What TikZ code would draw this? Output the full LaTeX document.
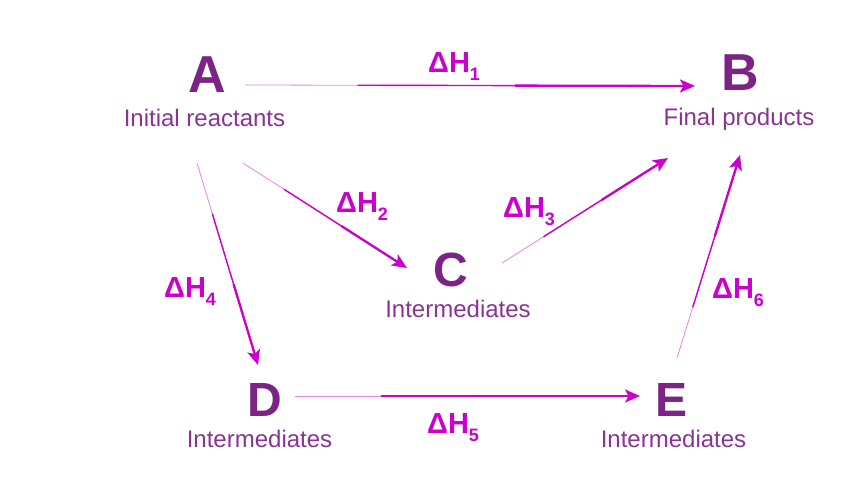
\documentclass[tikz,border=0pt]{standalone}
\usepackage{fontspec}
\setmainfont{Liberation Sans}
\usepackage{tikz}
\usetikzlibrary{arrows.meta,calc}
\definecolor{PurpleLetter}{RGB}{123,36,134}
\definecolor{PurpleText}{RGB}{137,52,148}
\definecolor{MagentaFlow}{RGB}{204,0,204}
\definecolor{PinkTail}{RGB}{232,130,232}
\newcommand{\pathway}[2]{%
  \draw[PinkTail,line width=0.8pt,shorten >=8pt] (#1) -- (#2);
  \draw[MagentaFlow,line width=1.4pt,shorten >=8pt] ($(#1)!0.25!(#2)$) -- (#2);
  \draw[MagentaFlow,line width=2.3pt,-{Stealth[length=15pt,width=13pt,inset=3.5pt]}] ($(#1)!0.6!(#2)$) -- (#2);}
\newcommand{\dH}[1]{ΔH\raisebox{-8pt}{\fontsize{18}{18}\selectfont #1}}

\begin{document}
\begin{tikzpicture}[x=1pt,y=-1pt,
    big/.style={PurpleLetter,inner sep=0pt,font=\bfseries\fontsize{52}{52}\selectfont},
    mid/.style={big,font=\bfseries\fontsize{48}{48}\selectfont},
    caption/.style={PurpleText,inner sep=0pt,anchor=base,font=\fontsize{24}{24}\selectfont},
    dh/.style={MagentaFlow,inner sep=0pt,anchor=base west,font=\bfseries\fontsize{29}{29}\selectfont}]
  \useasboundingbox (0,0) rectangle (850,500);
  \node[big] (A) at (207.5,75) {A};
  \node[caption] (Acap) at (204.5,126) {Initial reactants};
  \node[big] (B) at (740,72.5) {B};
  \node[caption] (Bcap) at (739,125) {Final products};
  \node[mid] (C) at (450.5,269.5) {C};
  \node[caption] (Ccap) at (458,317) {Intermediates};
  \node[mid] (D) at (265,399.5) {D};
  \node[caption] (Dcap) at (259.5,447) {Intermediates};
  \node[mid] (E) at (671,400) {E};
  \node[caption] (Ecap) at (673.5,447) {Intermediates};
  \pathway{[shift={(37.5,10)}]A.center}{[shift={(-45,13.5)}]B.center}
  \pathway{[shift={(38.5,37)}]Acap.base}{[shift={(-43.5,-1.5)}]C.center}
  \pathway{[shift={(51.5,-6.5)}]C.center}{[shift={(-71,33)}]Bcap.base}
  \pathway{[shift={(-7.5,37)}]Acap.base}{[shift={(-7,-34.5)}]D.center}
  \pathway{[shift={(30,-3.5)}]D.center}{[shift={(-31,-4)}]E.center}
  \pathway{[shift={(6,-42)}]E.center}{[shift={(1,30)}]Bcap.base}
  \node[dh] (h1) at (428,73) {\dH{1}};
  \node[dh] (h2) at (336,212) {\dH{2}};
  \node[dh] (h3) at (503,217) {\dH{3}};
  \node[dh] (h4) at (164,297) {\dH{4}};
  \node[dh] (h5) at (427,433) {\dH{5}};
  \node[dh] (h6) at (712,298) {\dH{6}};
\end{tikzpicture}
\end{document}
